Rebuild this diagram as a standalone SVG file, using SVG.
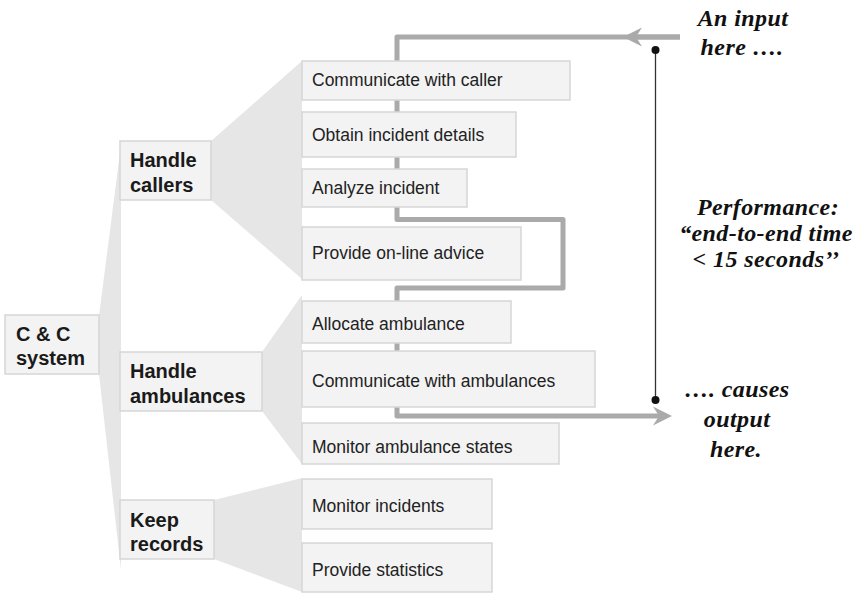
<svg xmlns="http://www.w3.org/2000/svg" width="861" height="593" viewBox="0 0 861 593">
<defs>
<style>
.fan{fill:#e6e6e6}
.box{fill:#f3f3f3;stroke:#d6d6d6;stroke-width:1.5}
.t{font-family:"Liberation Sans",Arial,sans-serif;font-size:17.5px;fill:#222}
.b{font-family:"Liberation Sans",Arial,sans-serif;font-size:20px;font-weight:bold;fill:#1a1a1a}
.n{font-family:"Liberation Serif","Times New Roman",serif;font-size:24px;font-weight:bold;font-style:italic;fill:#111;text-anchor:middle;letter-spacing:0.4px}
.flow{fill:none;stroke:#aaaaaa;stroke-width:5;stroke-linejoin:round}
</style>
<marker id="arr" viewBox="0 0 20 20" refX="10" refY="10" markerWidth="20" markerHeight="20" markerUnits="userSpaceOnUse" orient="auto">
<path d="M20,10 L1,0.5 L7,10 L1,19.5 Z" fill="#aaaaaa"/>
</marker>
</defs>
<rect width="861" height="593" fill="#ffffff"/>
<g id="fans">
<polygon class="fan" points="121,145 99,316 99,374 121,570"/>
<polygon class="fan" points="211,141 302,61 302,279 211,200"/>
<polygon class="fan" points="262,352 302,295 302,464 262,411"/>
<polygon class="fan" points="214,500 302,478 302,592 214,559"/>
</g>
<g id="connectors">
<path class="flow" d="M680,37 L397,37 L397,219.5 L563,219.5 L563,288 L397,288 L397,416 L662,416" marker-end="url(#arr)"/>
<path class="flow" d="M680,37 L633,37" marker-end="url(#arr)"/>
<line x1="655.5" y1="50" x2="655.5" y2="400" stroke="#333" stroke-width="1.3"/>
<circle cx="655.5" cy="50" r="4" fill="#111"/>
<circle cx="655.5" cy="400" r="4" fill="#111"/>
</g>
<g id="cc-system"><rect class="box" x="5" y="315" width="94" height="59"/><text class="b" x="16" y="341">C &amp; C</text><text class="b" x="16" y="365">system</text></g>
<g id="handle-callers"><rect class="box" x="120" y="141" width="91" height="59"/><text class="b" x="130" y="167">Handle</text><text class="b" x="130" y="192">callers</text></g>
<g id="handle-ambulances"><rect class="box" x="120" y="352" width="142" height="59"/><text class="b" x="130" y="378">Handle</text><text class="b" x="130" y="403">ambulances</text></g>
<g id="keep-records"><rect class="box" x="120" y="500" width="94" height="59"/><text class="b" x="130" y="527">Keep</text><text class="b" x="130" y="551">records</text></g>
<g id="communicate-caller"><rect class="box" x="302" y="61" width="268" height="39"/><text class="t" x="312" y="86">Communicate with caller</text></g>
<g id="obtain-details"><rect class="box" x="302" y="112" width="214" height="45"/><text class="t" x="312" y="141">Obtain incident details</text></g>
<g id="analyze-incident"><rect class="box" x="302" y="169" width="165" height="38"/><text class="t" x="312" y="194">Analyze incident</text></g>
<g id="provide-advice"><rect class="box" x="302" y="227" width="219" height="53"/><text class="t" x="312" y="259">Provide on-line advice</text></g>
<g id="allocate-ambulance"><rect class="box" x="302" y="301" width="209" height="42"/><text class="t" x="312" y="330">Allocate ambulance</text></g>
<g id="communicate-ambulances"><rect class="box" x="302" y="351" width="293" height="56"/><text class="t" x="312" y="387">Communicate with ambulances</text></g>
<g id="monitor-states"><rect class="box" x="302" y="423" width="257" height="41"/><text class="t" x="312" y="453">Monitor ambulance states</text></g>
<g id="monitor-incidents"><rect class="box" x="302" y="479" width="190" height="50"/><text class="t" x="312" y="512">Monitor incidents</text></g>
<g id="provide-statistics"><rect class="box" x="302" y="543" width="190" height="49"/><text class="t" x="312" y="576">Provide statistics</text></g>
<g id="notes">
<text class="n" x="743" y="26">An input</text>
<text class="n" x="742" y="55">here ….</text>
<text class="n" x="768" y="215">Performance:</text>
<text class="n" x="766" y="241">“end-to-end time</text>
<text class="n" x="766" y="267">&lt; 15 seconds’’</text>
<text class="n" x="737" y="397">…. causes</text>
<text class="n" x="737" y="427">output</text>
<text class="n" x="736" y="457">here.</text>
</g>
</svg>
